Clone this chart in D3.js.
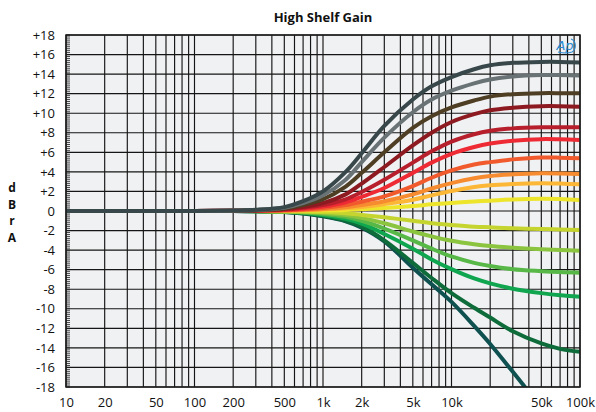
<!DOCTYPE html>
<html>
<head>
<meta charset="utf-8">
<script src="https://cdn.jsdelivr.net/npm/d3@7"></script>
<style>
  html, body { margin: 0; padding: 0; background: #fff; }
  svg { display: block; }
  text { font-family: "Open Sans", "Noto Sans", sans-serif; }
</style>
</head>
<body>
<svg id="chart" width="596" height="412"></svg>
<script>
// ---------- data ----------
const freqs = [10, 100, 200, 300, 500, 700, 1000, 1500, 2000, 3000, 5000, 7000, 10000, 15000, 20000, 30000, 50000, 70000, 100000];

const gain15  = [0, 0, 0.05, 0.12, 0.40, 1.0, 2.0, 4.0, 5.9, 8.7, 11.4, 12.75, 13.7, 14.5, 14.9, 15.15, 15.25, 15.25, 15.2];
const gain14  = [0, 0, 0.04, 0.10, 0.33, 0.8, 1.6, 3.2, 5.0, 7.5, 10.1, 11.4, 12.3, 13.05, 13.45, 13.75, 13.9, 13.9, 13.85];
const gain12  = [0, 0, 0.03, 0.08, 0.26, 0.6, 1.2, 2.5, 3.9, 6.0, 8.5, 9.7, 10.6, 11.3, 11.7, 11.95, 12.05, 12.05, 12.03];
const gain11  = [0, 0, 0.03, 0.06, 0.20, 0.42, 0.8, 1.7, 2.8, 4.5, 6.7, 8.0, 9.1, 9.9, 10.3, 10.57, 10.72, 10.72, 10.67];
const gain9   = [0, 0, 0.02, 0.05, 0.15, 0.32, 0.6, 1.2, 1.95, 3.2, 4.95, 6.1, 7.1, 7.85, 8.2, 8.45, 8.56, 8.57, 8.56];
const gain7   = [0, 0, 0.02, 0.04, 0.11, 0.24, 0.45, 0.9, 1.45, 2.35, 3.9, 4.95, 5.85, 6.55, 6.9, 7.18, 7.35, 7.33, 7.26];
const gain5   = [0, 0, 0.01, 0.03, 0.07, 0.16, 0.30, 0.6, 0.95, 1.5, 2.55, 3.4, 4.15, 4.75, 5.0, 5.28, 5.47, 5.45, 5.39];
const gain4   = [0, 0, 0.01, 0.02, 0.05, 0.11, 0.20, 0.38, 0.60, 1.0, 1.7, 2.3, 2.85, 3.35, 3.58, 3.75, 3.86, 3.84, 3.78];
const gain3   = [0, 0, 0, 0.02, 0.04, 0.08, 0.15, 0.27, 0.42, 0.7, 1.15, 1.6, 2.05, 2.45, 2.63, 2.76, 2.83, 2.8, 2.73];
const gain1   = [0, 0, 0, 0.01, 0.02, 0.04, 0.06, 0.11, 0.18, 0.3, 0.5, 0.68, 0.83, 0.98, 1.06, 1.18, 1.25, 1.22, 1.12];
const cutM2   = [0, 0, 0, -0.01, -0.03, -0.06, -0.10, -0.23, -0.4, -0.65, -1.0, -1.25, -1.43, -1.6, -1.67, -1.77, -1.84, -1.9, -1.94];
const cutM4   = [0, 0, 0, -0.01, -0.05, -0.10, -0.20, -0.42, -0.7, -1.25, -2.1, -2.6, -3.05, -3.4, -3.58, -3.75, -3.92, -4.0, -4.06];
const cutM6   = [0, 0, 0, -0.02, -0.07, -0.15, -0.30, -0.6, -1.0, -1.8, -3.0, -3.85, -4.65, -5.3, -5.62, -5.95, -6.15, -6.25, -6.31];
const cutM9   = [0, 0, 0, -0.02, -0.08, -0.18, -0.40, -0.8, -1.3, -2.35, -3.85, -4.95, -5.95, -6.9, -7.4, -7.95, -8.4, -8.62, -8.76];
const cutM14  = [0, 0, 0, -0.03, -0.10, -0.24, -0.50, -1.0, -1.6, -3.0, -5.3, -6.85, -8.4, -9.9, -10.9, -12.3, -13.55, -14.1, -14.4];
const cutDeep = [0, 0, 0, -0.03, -0.10, -0.25, -0.55, -1.05, -1.7, -3.1, -5.8, -7.5, -9.3, -11.75, -13.6, -16.45, -20.1, -22.5, -25];

const seriesValues = [gain15, gain14, gain12, gain11, gain9, gain7, gain5, gain4, gain3, gain1,
                      cutM2, cutM4, cutM6, cutM9, cutM14, cutDeep];
const seriesColors = ["#37474a", "#697375", "#4e3e24", "#8c1a20", "#b61f2b", "#ee2b34", "#f15a2c",
                      "#f68b2f", "#fbb735", "#ece52c", "#c6d42f", "#8bc43f", "#57b847", "#10a650",
                      "#0e6c3a", "#0f5150"];

const xTickValues = [10, 20, 50, 100, 200, 500, 1000, 2000, 5000, 10000, 50000, 100000];
const xTickLabels = ["10", "20", "50", "100", "200", "500", "1k", "2k", "5k", "10k", "50k", "100k"];
const yTickValues = d3.range(-18, 19, 2);
const yTickLabels = yTickValues.map(d => d > 0 ? "+" + d : String(d));
const yLabelLetters = ["d", "B", "r", "A"];
const titleText = "High Shelf Gain";

// ---------- layout ----------
const L = 66, R = 580, T = 35, B = 387;
const svg = d3.select("#chart");
const x = d3.scaleLog().domain([10, 100000]).range([L, R]);
const y = d3.scaleLinear().domain([-18, 18]).range([B, T]);

// plot background
svg.append("rect").attr("x", L).attr("y", T).attr("width", R - L).attr("height", B - T)
  .attr("fill", "#f0f1f3");

// grid
const vGrid = [];
for (let dec = 10; dec < 100000; dec *= 10) for (let m = 1; m <= 9; m++) vGrid.push(dec * m);
vGrid.push(100000);
const grid = svg.append("g").attr("stroke", "#151515").attr("stroke-width", 1.15);
grid.selectAll("line.v").data(vGrid).join("line").attr("class", "v")
  .attr("x1", d => x(d)).attr("x2", d => x(d)).attr("y1", T).attr("y2", B);
grid.selectAll("line.h").data(yTickValues).join("line").attr("class", "h")
  .attr("x1", L).attr("x2", R).attr("y1", d => y(d)).attr("y2", d => y(d));

// minor ticks on left edge
const minor = d3.range(-18, 18.01, 0.2);
svg.append("g").attr("stroke", "#1c1c1c").attr("stroke-width", 0.8)
  .selectAll("line").data(minor).join("line")
  .attr("x1", L).attr("x2", L + 4).attr("y1", d => y(d)).attr("y2", d => y(d));

// clip
svg.append("clipPath").attr("id", "plotclip").append("rect")
  .attr("x", L).attr("y", T).attr("width", R - L).attr("height", B - T);

// curves (draw from last to first so the top curve is on top)
const line = d3.line()
  .x(d => x(d[0])).y(d => y(d[1]))
  .curve(d3.curveCatmullRom.alpha(0.5));
const curvesG = svg.append("g").attr("clip-path", "url(#plotclip)");
const order = d3.range(seriesValues.length).reverse();
curvesG.selectAll("path").data(order).join("path")
  .attr("d", i => line(freqs.map((f, k) => [f, seriesValues[i][k]])))
  .attr("fill", "none")
  .attr("stroke", i => seriesColors[i])
  .attr("stroke-width", 4)
  .attr("stroke-linecap", "butt")
  .attr("stroke-linejoin", "round");

// border
svg.append("rect").attr("x", L).attr("y", T).attr("width", R - L).attr("height", B - T)
  .attr("fill", "none").attr("stroke", "#1c1c1c").attr("stroke-width", 1.5);

// axes
const xAxis = d3.axisBottom(x).tickValues(xTickValues)
  .tickFormat((d, i) => xTickLabels[i]).tickSize(0).tickPadding(11);
const gx = svg.append("g").attr("transform", `translate(0,${B})`).call(xAxis);
gx.select(".domain").remove();
gx.selectAll("text").attr("font-size", 13).attr("fill", "#111")
  .style("font-family", '"Open Sans", sans-serif');

const yAxis = d3.axisLeft(y).tickValues(yTickValues)
  .tickFormat((d, i) => yTickLabels[i]).tickSize(0).tickPadding(11);
const gy = svg.append("g").attr("transform", `translate(${L},0)`).call(yAxis);
gy.select(".domain").remove();
gy.selectAll("text").attr("font-size", 13).attr("fill", "#111")
  .style("font-family", '"Open Sans", sans-serif');

// title
svg.append("text").attr("x", 323).attr("y", 22).attr("text-anchor", "middle")
  .attr("font-size", 13).attr("font-weight", "bold").attr("fill", "#111").text(titleText);

// y label (stacked letters)
svg.append("g").selectAll("text").data(yLabelLetters).join("text")
  .attr("x", 12).attr("y", (d, i) => 192 + i * 16.5).attr("text-anchor", "middle")
  .attr("font-size", 12).attr("font-weight", "bold").attr("fill", "#111").text(d => d);

// AP logo
const logo = svg.append("g").attr("transform", "translate(556,38)");
logo.append("text").attr("x", 9).attr("y", 12).attr("text-anchor", "middle")
  .attr("font-size", 13).attr("font-style", "italic").attr("fill", "#2a8ad3")
  .style("font-family", '"DejaVu Sans", sans-serif').text("Ap");
logo.append("path").attr("d", "M15,1 A6,7 0 0 1 16,14 Q10,16 2,14")
  .attr("fill", "none").attr("stroke", "#2a8ad3").attr("stroke-width", 1.1);
</script>
</body>
</html>
